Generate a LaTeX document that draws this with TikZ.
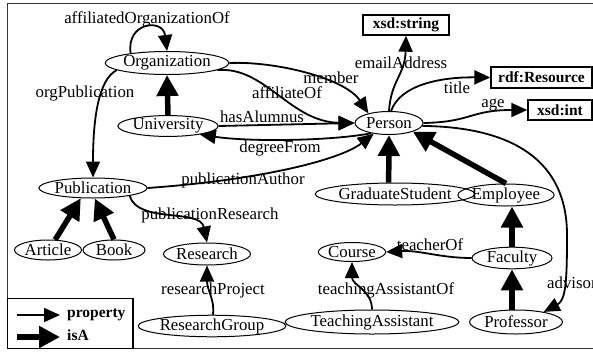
\documentclass[tikz,border=0pt]{standalone}
\usepackage{fontspec}
\setmainfont{Liberation Serif}
\usetikzlibrary{arrows.meta,shapes.geometric}

\tikzset{
  cls/.style={ellipse, draw, line width=1pt, inner sep=0pt,
    font=\fontsize{16.8}{18}\selectfont},
  lit/.style={rectangle, draw, line width=1.4pt, inner sep=0pt,
    font=\bfseries\fontsize{15.5}{17}\selectfont},
  lbl/.style={inner sep=0pt, font=\fontsize{16.8}{18}\selectfont},
  legtext/.style={inner sep=0pt, anchor=west, font=\bfseries\fontsize{15.5}{17}\selectfont},
  prop/.style={line width=1.8pt, -{Triangle[length=16pt 0 0,width=14pt 0 0]}},
  isa/.style={line width=5.5pt, -{Triangle[length=21pt 0 0,width=21pt 0 0]}},
}

\begin{document}
\begin{tikzpicture}[x=1pt,y=-1pt]
\useasboundingbox (0,0) rectangle (593,351);

% outer frame and legend box
\draw[line width=1.2pt, draw=black!80] (7.5,3.5) rectangle (620,348.5);
\draw[line width=1.2pt] (7.5,298.5) rectangle (133,348.5);

% classes
\node[cls, minimum width=102pt, minimum height=23pt] (org)    at (167,63)  {Organization};
\node[cls, minimum width=90pt,  minimum height=19pt] (univ)   at (168,126) {University};
\node[cls, minimum width=68pt,  minimum height=23pt] (person) at (389,123) {Person};
\node[cls, minimum width=103pt, minimum height=20pt] (pub)    at (93,188)  {Publication};
\node[cls, minimum width=67pt,  minimum height=20pt] (art)    at (48,250)  {Article};
\node[cls, minimum width=62pt,  minimum height=20pt] (book)   at (114,250) {Book};
\node[cls, minimum width=80pt,  minimum height=22pt] (res)    at (207,254) {Research};
\node[cls, minimum width=122pt, minimum height=19pt] (rg)     at (212,326) {ResearchGroup};
\node[cls, minimum width=124pt, minimum height=22pt] (gs)     at (395,194) {GraduateStudent};
\node[cls, minimum width=91pt,  minimum height=22pt] (emp)    at (506,195) {Employee};
\node[cls, minimum width=61pt,  minimum height=19pt] (course) at (352,252) {Course};
\node[cls, minimum width=80pt,  minimum height=19pt] (fac)    at (512,258) {Faculty};
\node[cls, minimum width=157pt, minimum height=24pt] (ta)     at (372,322) {TeachingAssistant};
\node[cls, minimum width=93pt,  minimum height=24pt] (prof)   at (516,322) {Professor};

% literal types
\node[lit, minimum width=86pt,  minimum height=20pt] (xstr) at (406,25)  {xsd:string};
\node[lit, minimum width=101pt, minimum height=21pt] (rres) at (541.5,77.5) {rdf:Resource};
\node[lit, minimum width=64pt,  minimum height=20pt] (xint) at (560,110) {xsd:int};

% properties
\draw[prop] (org.165) .. controls (126,22) and (163,18) .. (org.north);
\draw[prop] (org.188) .. controls (98,80) and (93,120) .. (pub.north);
\draw[prop] (org.east) .. controls (275,61) and (345,78) .. (person.155);
\draw[prop] (org.-8) .. controls (265,66) and (290,122) .. (person.west);
\draw[prop] (univ.east) -- (person.west);
\draw[prop] (person.210) .. controls (330,141) and (250,142) .. (univ.-15);
\draw[prop] (pub.east) .. controls (260,180) and (340,160) .. (person.215);
\draw[prop] (pub.-12) .. controls (138,224) and (200,208) .. (res.north);
\draw[prop] (rg.85) .. controls (215,300) and (207,290) .. (res.south);
\draw[prop] (person.north) .. controls (391,80) and (405,75) .. (xstr.south);
\draw[prop] (person.80) .. controls (400,85) and (440,77) .. (rres.west);
\draw[prop] (person.east) .. controls (472,122) and (470,110) .. (xint.west);
\draw[prop] (person.-5) .. controls (512,127) and (567,160) .. (567,235)
                        .. controls (567,280) and (566,300) .. (prof.20);
\draw[prop] (fac.west) .. controls (440,258) and (420,250) .. (course.east);
\draw[prop] (ta.north) .. controls (372,290) and (352,285) .. (course.south);

% subclass links
\draw[isa] (univ.north) -- (org.south);
\draw[isa] (art.55) -- (pub.220);
\draw[isa] (book.north) -- (pub.-80);
\draw[isa] (gs.119) -- (person.south);
\draw[isa] (emp.north) -- (person.-20);
\draw[isa] (fac.north) -- (emp.south -| fac.north);
\draw[isa] (prof.north -| fac.south) -- (fac.south);

% property labels
\node[lbl] (l-aoo)    at (147,19)  {affiliatedOrganizationOf};
\node[lbl] (l-orgpub) at (85,93)   {orgPublication};
\node[lbl] (l-member) at (331,78)  {member};
\node[lbl] (l-affof)  at (287,93)  {affiliateOf};
\node[lbl] (l-hasal)  at (262,117) {hasAlumnus};
\node[lbl] (l-degree) at (280,148) {degreeFrom};
\node[lbl] (l-pubau)  at (243,180) {publicationAuthor};
\node[lbl] (l-pubres) at (210,215) {publicationResearch};
\node[lbl] (l-rproj)  at (213,290) {researchProject};
\node[lbl] (l-email)  at (401,63)  {emailAddress};
\node[lbl] (l-title)  at (457,88)  {title};
\node[lbl] (l-age)    at (493,105) {age};
\node[lbl, anchor=west] (l-advisor) at (547,283) {advisor};
\node[lbl] (l-teach)  at (430,245) {teacherOf};
\node[lbl] (l-taof)   at (386,290) {teachingAssistantOf};

% legend
\coordinate (lp-a) at (17,315);
\coordinate (lp-b) at (60,315);
\coordinate (li-a) at (17,337);
\coordinate (li-b) at (60,337);
\draw[prop] (lp-a) -- (lp-b);
\draw[isa] (li-a) -- (li-b);
\node[legtext] (leg-prop) at (67,315) {property};
\node[legtext] (leg-isa)  at (67,335) {isA};
\end{tikzpicture}
\end{document}
